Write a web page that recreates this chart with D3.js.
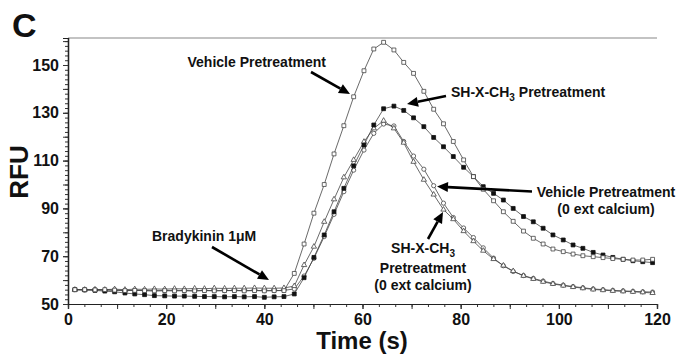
<!DOCTYPE html>
<html><head><meta charset="utf-8">
<script src="https://cdn.jsdelivr.net/npm/d3@7"></script>
<style>
body{margin:0;background:#fff}
svg text{font-family:"Liberation Sans",Arial,Helvetica,sans-serif;font-weight:bold;fill:#111}
</style>
</head><body>
<svg id="chart" width="681" height="354"></svg>
<script>
// ---- data ----
const times = [1.4,3.4,5.5,7.5,9.5,11.6,13.6,15.6,17.6,19.7,21.7,23.7,25.8,27.8,29.8,31.9,33.9,35.9,38.0,40.0,
  42.0,44.0,46.1,48.1,50.1,52.2,54.2,56.2,58.2,60.3,62.3,64.3,66.4,68.4,70.4,72.5,74.5,76.5,78.5,80.6,
  82.6,84.6,86.7,88.7,90.7,92.8,94.8,96.8,98.8,100.9,102.9,104.9,107.0,109.0,111.0,113.1,115.1,117.1,119.1];

const vehicle = [56.0,56.0,55.9,56.0,55.8,55.6,55.7,55.6,55.5,55.6,55.5,55.6,55.5,55.6,55.5,55.6,55.6,55.5,55.6,55.5,
  55.6,55.6,62.8,75.1,88.0,100.0,112.8,124.6,136.7,147.6,156.7,159.5,156.3,151.1,146.5,139.0,131.5,125.4,118.0,110.3,
  103.3,98.0,93.2,88.6,84.6,80.5,77.5,75.1,73.0,71.9,70.9,70.2,69.8,69.4,69.0,68.7,68.4,68.4,68.7];

const shxch3 = [56.0,55.9,55.7,55.4,55.1,54.6,54.2,53.9,53.5,53.4,53.3,53.3,53.2,53.1,53.1,53.0,53.1,53.0,53.1,52.8,
  53.0,53.1,54.2,61.0,69.5,78.9,88.6,98.4,107.8,116.5,124.9,131.7,132.8,131.0,127.9,124.2,119.7,115.8,111.7,107.2,
  103.3,99.1,96.3,93.5,90.0,86.6,84.4,81.7,78.9,76.8,74.7,73.3,71.6,70.5,69.5,68.7,68.1,67.7,67.3];

const vehicle0Ca = [56.0,55.9,56.0,55.8,55.8,55.6,55.7,55.6,55.5,55.6,55.6,55.6,55.5,55.7,55.6,55.6,55.7,55.6,55.7,55.6,
  55.6,55.7,56.3,61.7,69.1,78.2,87.5,97.0,106.0,114.4,121.4,125.3,124.5,118.0,111.9,106.4,99.5,92.2,86.2,81.8,
  77.8,73.5,69.2,66.0,63.6,61.9,60.7,59.6,58.6,57.9,57.3,56.8,56.3,56.0,55.7,55.5,55.3,55.1,55.0];

const shxch30Ca = [56.0,56.0,56.1,56.0,56.2,56.0,56.2,56.1,56.3,56.2,56.4,56.3,56.5,56.4,56.6,56.5,56.6,56.6,56.7,56.6,
  56.6,56.7,57.5,66.3,74.0,84.4,93.8,103.0,110.3,117.9,123.5,126.7,123.5,117.5,109.5,102.0,95.8,89.5,85.5,80.5,
  76.3,72.3,68.8,66.1,63.8,61.8,60.5,59.3,58.4,57.7,57.1,56.6,56.1,55.8,55.5,55.3,55.1,54.9,54.6];

const xTickLabels = [0,20,40,60,80,100,120];
const yTickLabels = [50,70,90,110,130,150];

// ---- layout ----
const svg = d3.select("#chart");
const x = d3.scaleLinear().domain([0,120]).range([68,657]);
const y = d3.scaleLinear().domain([50,161.3]).range([304,38]);

// top border
svg.append("line").attr("x1",x(0)).attr("x2",x(120)).attr("y1",y(161.3)).attr("y2",y(161.3))
  .attr("stroke","#888").attr("stroke-width",1.2);

function styleAxis(g){
  g.select(".domain").attr("stroke","#222").attr("stroke-width",1.2);
  g.selectAll(".tick line").attr("stroke","#333");
}
// x axis: minor, mid, labelled
svg.append("g").attr("transform",`translate(0,${y(50)})`)
  .call(d3.axisBottom(x).tickValues(d3.range(0,120.01,10/3)).tickSize(3).tickFormat(""))
  .call(styleAxis);
svg.append("g").attr("transform",`translate(0,${y(50)})`)
  .call(d3.axisBottom(x).tickValues(d3.range(0,121,10)).tickSize(5).tickFormat(""))
  .call(styleAxis);
const gx = svg.append("g").attr("transform",`translate(0,${y(50)})`)
  .call(d3.axisBottom(x).tickValues(xTickLabels).tickSize(5).tickPadding(5).tickFormat(d3.format("d")))
  .call(styleAxis);
gx.selectAll("text").style("font-size","16px").attr("fill","#111");

// y axis
svg.append("g").attr("transform",`translate(${x(0)},0)`)
  .call(d3.axisLeft(y).tickValues(d3.range(50,161,2)).tickSize(3).tickFormat(""))
  .call(styleAxis);
svg.append("g").attr("transform",`translate(${x(0)},0)`)
  .call(d3.axisLeft(y).tickValues(d3.range(50,161,10)).tickSize(5).tickFormat(""))
  .call(styleAxis);
const gy = svg.append("g").attr("transform",`translate(${x(0)},0)`)
  .call(d3.axisLeft(y).tickValues(yTickLabels).tickSize(5).tickPadding(4).tickFormat(d3.format("d")))
  .call(styleAxis);
gy.selectAll("text").style("font-size","16px").attr("fill","#111");

// ---- series ----
const line = d3.line().x((d,i)=>x(times[i])).y(d=>y(d));
const series = [
  {vals: vehicle0Ca, marker:"circle", fill:"#fff"},
  {vals: shxch30Ca, marker:"triangle", fill:"#fff"},
  {vals: shxch3, marker:"square", fill:"#111"},
  {vals: vehicle, marker:"square", fill:"#fff"}
];
const sym = {
  circle: d3.symbol().type(d3.symbolCircle).size(14),
  triangle: d3.symbol().type(d3.symbolTriangle).size(12),
  square: d3.symbol().type(d3.symbolSquare).size(15)
};
series.forEach(s=>{
  svg.append("path").datum(s.vals).attr("d",line)
    .attr("fill","none").attr("stroke","#444").attr("stroke-width",0.8);
  svg.append("g").selectAll("path").data(s.vals).join("path")
    .attr("d",sym[s.marker])
    .attr("transform",(d,i)=>`translate(${x(times[i])},${y(d)})`)
    .attr("fill",s.fill).attr("stroke",s.fill==="#fff"?"#444":"#111").attr("stroke-width",0.8);
});

// ---- titles ----
svg.append("text").attr("x",12).attr("y",37).style("font-size","34px").text("C");
svg.append("text").attr("transform","translate(28,172) rotate(-90)").attr("text-anchor","middle")
  .style("font-size","26px").text("RFU");
svg.append("text").attr("x",362).attr("y",349).attr("text-anchor","middle")
  .style("font-size","24px").text("Time (s)");

// ---- annotations ----
function arrow(x1,y1,x2,y2){
  const a = Math.atan2(y2-y1,x2-x1), L=11, W=5;
  const bx = x2 - L*Math.cos(a), by = y2 - L*Math.sin(a);
  svg.append("line").attr("x1",x1).attr("y1",y1).attr("x2",bx).attr("y2",by)
    .attr("stroke","#000").attr("stroke-width",2.6);
  svg.append("polygon").attr("points",[
    [x2,y2],[bx+W*Math.sin(a),by-W*Math.cos(a)],[bx-W*Math.sin(a),by+W*Math.cos(a)]
  ].map(p=>p.join(",")).join(" ")).attr("fill","#000");
}
const fs = "14px";
svg.append("text").attr("x",326).attr("y",66.5).attr("text-anchor","end").style("font-size",fs).text("Vehicle Pretreatment");
arrow(311,72,350,94);

const t2 = svg.append("text").attr("x",451).attr("y",97).style("font-size",fs);
t2.append("tspan").text("SH-X-CH");
t2.append("tspan").attr("dy",4).style("font-size","10px").text("3");
t2.append("tspan").attr("dy",-4).text(" Pretreatment");
arrow(446,96,407,104);

svg.append("text").attr("x",152).attr("y",241).style("font-size",fs).text("Bradykinin 1μM");
arrow(212,247,269,280);

svg.append("text").attr("x",606).attr("y",196.5).attr("text-anchor","middle").style("font-size",fs).text("Vehicle Pretreatment");
svg.append("text").attr("x",606).attr("y",213.5).attr("text-anchor","middle").style("font-size",fs).text("(0 ext calcium)");
arrow(532,191.5,437,186.5);

const t3 = svg.append("text").attr("x",423).attr("y",253).attr("text-anchor","middle").style("font-size",fs);
t3.append("tspan").text("SH-X-CH");
t3.append("tspan").attr("dy",4).style("font-size","10px").text("3");
svg.append("text").attr("x",423).attr("y",273).attr("text-anchor","middle").style("font-size",fs).text("Pretreatment");
svg.append("text").attr("x",423).attr("y",290).attr("text-anchor","middle").style("font-size",fs).text("(0 ext calcium)");
arrow(428,239,443,212);
</script>
</body></html>
